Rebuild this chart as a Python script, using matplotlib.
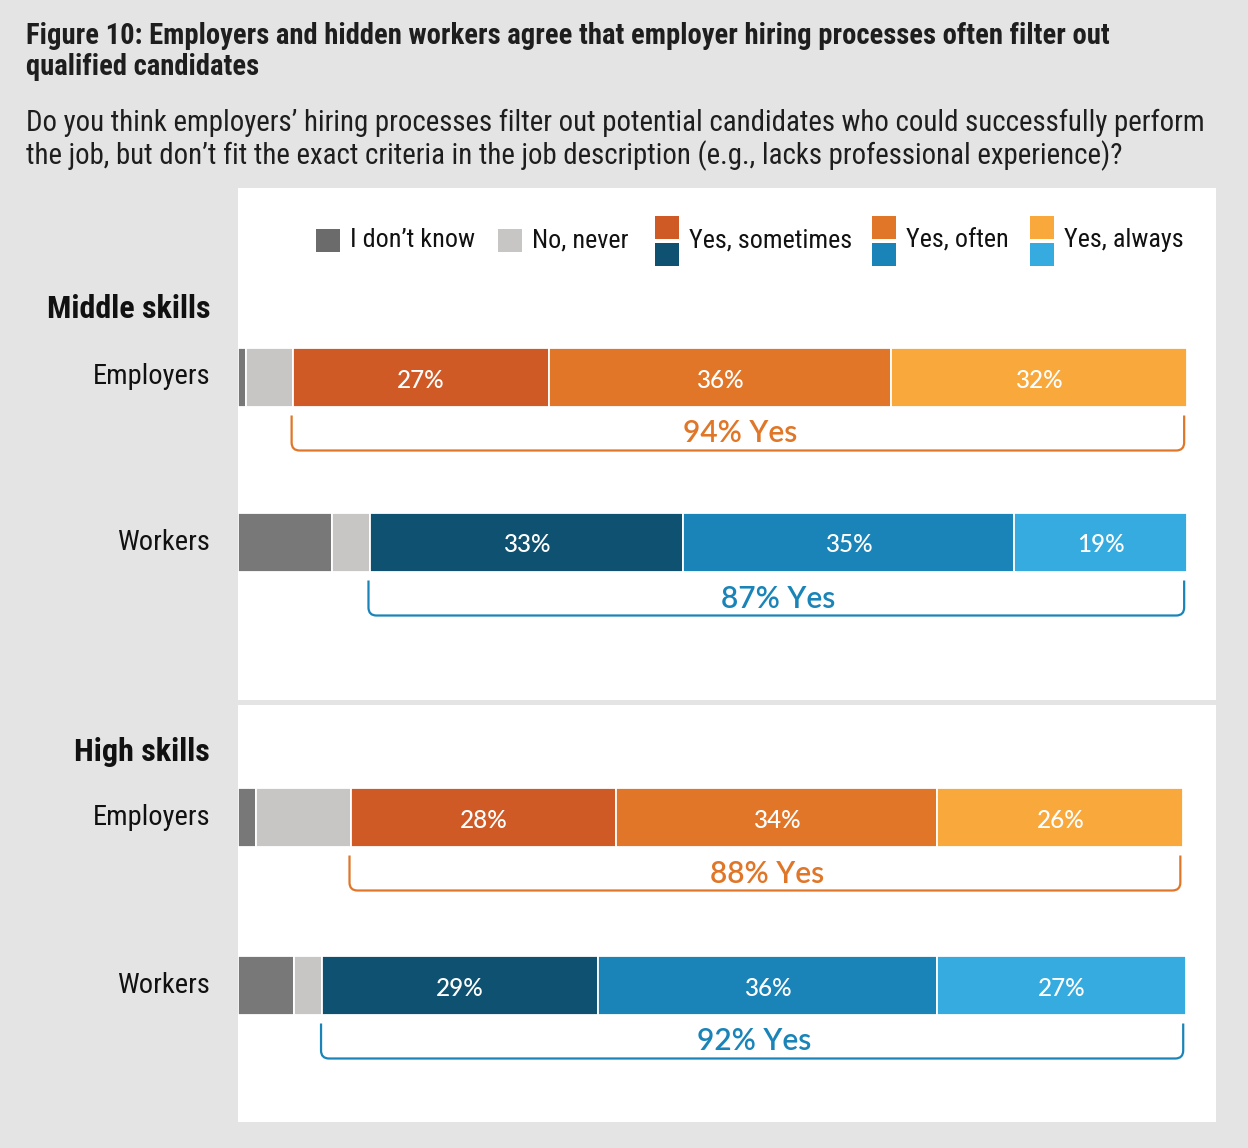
import matplotlib
matplotlib.use("Agg")
import matplotlib.pyplot as plt
from matplotlib import font_manager, transforms
from matplotlib.path import Path
from matplotlib.patches import PathPatch, Rectangle

# ---------------- data ----------------
groups = ["Middle skills", "High skills"]
respondents = ["Employers", "Workers"]
legend_labels = ["I don\u2019t know", "No, never", "Yes, sometimes", "Yes, often", "Yes, always"]

# segment widths (% of respondents), order: Middle-Employers, Middle-Workers, High-Employers, High-Workers
dont_know = [0.8, 9.9, 1.9, 5.9]
no_never = [5.0, 4.0, 10.0, 3.0]
yes_sometimes = [27.0, 33.0, 27.9, 29.0]
yes_often = [36.0, 34.9, 33.9, 35.8]
yes_always = [31.2, 18.2, 25.9, 26.2]

# printed labels
lbl_sometimes = ["27%", "33%", "28%", "29%"]
lbl_often = ["36%", "35%", "34%", "36%"]
lbl_always = ["32%", "19%", "26%", "27%"]
total_yes = ["94% Yes", "87% Yes", "88% Yes", "92% Yes"]

title = ("Figure 10: Employers and hidden workers agree that employer hiring processes often filter out\n"
         "qualified candidates")
subtitle = ("Do you think employers\u2019 hiring processes filter out potential candidates who could successfully perform\n"
            "the job, but don\u2019t fit the exact criteria in the job description (e.g., lacks professional experience)?")

# ---------------- styles ----------------
BG = "#e4e4e4"
C_DK = "#787878"
C_DK_LEG = "#6b6b6b"
C_NO = "#c7c6c4"
EMP = ["#d05a26", "#e27628", "#f9a83b"]
WRK = ["#0f5170", "#1a84b8", "#36abe0"]
EMP_TXT = "#e07628"
WRK_TXT = "#1a84b8"


def pick(names):
    for n in names:
        try:
            font_manager.findfont(font_manager.FontProperties(family=n), fallback_to_default=False)
            return n
        except Exception:
            pass
    return "DejaVu Sans"


COND = pick(["Roboto Condensed", "Liberation Sans Narrow", "Liberation Sans"])
GEO = pick(["Lato", "Noto Sans", "Open Sans"])

W, H = 1248, 1148
fig = plt.figure(figsize=(W / 100, H / 100), dpi=100, facecolor=BG)


def fx(x):
    return x / W


def fy(y):
    return 1 - y / H


# titles
fig.text(fx(26), fy(22), title, ha="left", va="top", fontsize=20.6, fontweight="bold",
         family=COND, color="#1e1e1e", linespacing=1.14)
fig.text(fx(26), fy(109), subtitle, ha="left", va="top", fontsize=20.8,
         family=COND, color="#1e1e1e", linespacing=1.12)

# panels (y in pixel-like units, inverted)
panels = [(188, 700), (705, 1122)]
row_y = [[377, 542], [817, 985]]
group_y = [309, 752]
bar_h = 59
xmax = (1216 - 238) / (1187 - 238) * 100

axes = []
for (top, bot) in panels:
    ax = fig.add_axes([fx(238), fy(bot), fx(1216) - fx(238), (bot - top) / H])
    ax.set_facecolor("white")
    ax.set_xlim(0, xmax)
    ax.set_ylim(bot, top)
    ax.set_xticks([])
    ax.set_yticks([])
    for s in ax.spines.values():
        s.set_visible(False)
    axes.append(ax)


def bracket(ax, x0, x1, ytop, ybot, color):
    rx = 8 / 9.49
    ry = 8
    verts = [(x0, ytop), (x0, ybot - ry), (x0, ybot), (x0 + rx, ybot),
             (x1 - rx, ybot), (x1, ybot), (x1, ybot - ry), (x1, ytop)]
    codes = [Path.MOVETO, Path.LINETO, Path.CURVE3, Path.CURVE3,
             Path.LINETO, Path.CURVE3, Path.CURVE3, Path.LINETO]
    ax.add_patch(PathPatch(Path(verts, codes), fill=False, edgecolor=color, lw=1.6,
                           capstyle="butt", joinstyle="round"))


idx = 0
for g, ax in enumerate(axes):
    trans = transforms.blended_transform_factory(fig.transFigure, ax.transData)
    ax.text(fx(210), group_y[g], groups[g], transform=trans, ha="right", va="center",
            fontsize=23, fontweight="bold", family=COND, color="#111111")
    for r in range(2):
        y = row_y[g][r]
        cols = EMP if r == 0 else WRK
        ax.text(fx(210), y, respondents[r], transform=trans, ha="right", va="center",
                fontsize=20.5, family=COND, color="#111111")
        vals = [dont_know[idx], no_never[idx], yes_sometimes[idx], yes_often[idx], yes_always[idx]]
        colors = [C_DK, C_NO] + cols
        labels = [None, None, lbl_sometimes[idx], lbl_often[idx], lbl_always[idx]]
        left = 0
        for v, c, lb in zip(vals, colors, labels):
            ax.barh(y, v, left=left, height=bar_h, color=c, edgecolor="white", linewidth=1.3)
            if lb:
                ax.text(left + v / 2, y + 3, lb, ha="center", va="center", color="white",
                        fontsize=17.5, family=GEO, fontweight="medium")
            left += v
        ystart = dont_know[idx] + no_never[idx]
        tcol = EMP_TXT if r == 0 else WRK_TXT
        ybar_bot = y + bar_h / 2
        bracket(ax, ystart - 0.15, left - 0.3, ybar_bot + 9, ybar_bot + 44, tcol)
        ax.text((ystart + left) / 2, ybar_bot + 27, total_yes[idx], ha="center", va="center",
                color=tcol, fontsize=21.5, family=GEO, fontweight="semibold")
        idx += 1

# legend
sq = 24
leg = [(316, legend_labels[0], [C_DK_LEG]),
       (498, legend_labels[1], [C_NO]),
       (655, legend_labels[2], [EMP[0], WRK[0]]),
       (872, legend_labels[3], [EMP[1], WRK[1]]),
       (1030, legend_labels[4], [EMP[2], WRK[2]])]
for x, lab, cs in leg:
    if len(cs) == 1:
        fig.patches.append(Rectangle((fx(x), fy(252)), sq / W, 23 / H, transform=fig.transFigure,
                                     facecolor=cs[0], edgecolor="none"))
    else:
        fig.patches.append(Rectangle((fx(x), fy(239)), sq / W, 23 / H, transform=fig.transFigure,
                                     facecolor=cs[0], edgecolor="none"))
        fig.patches.append(Rectangle((fx(x), fy(266)), sq / W, 23 / H, transform=fig.transFigure,
                                     facecolor=cs[1], edgecolor="none"))
    fig.text(fx(x + sq + 10), fy(240), lab, ha="left", va="center", fontsize=18.8,
             family=COND, color="#111111")

fig.savefig("out.png", dpi=100, facecolor=BG)
